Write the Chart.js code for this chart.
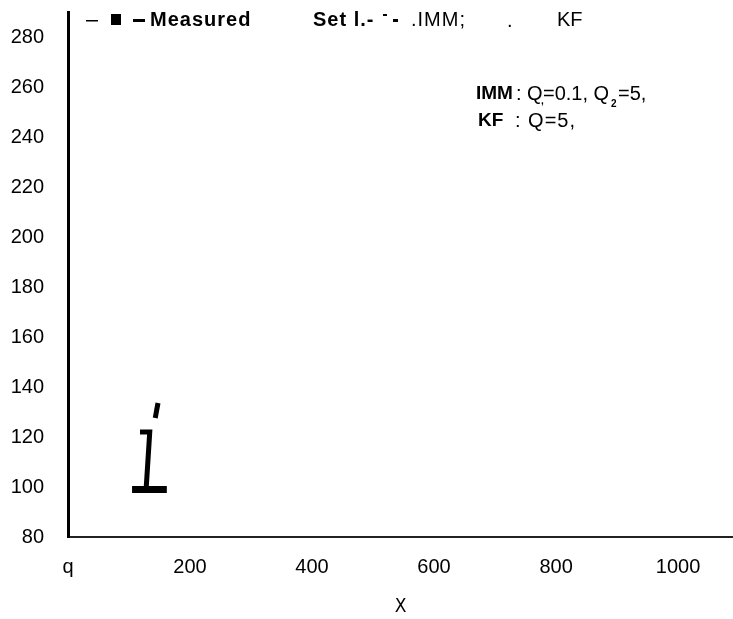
<!DOCTYPE html>
<html>
<head>
<meta charset="utf-8">
<script src="https://cdn.jsdelivr.net/npm/chart.js@4.4.1/dist/chart.umd.min.js"></script>
<style>
  html, body { margin: 0; padding: 0; background: #fff; }
  #wrap { width: 733px; height: 619px; }
</style>
</head>
<body>
<div id="wrap"><canvas id="myChart" width="733" height="619"></canvas></div>
<script>
// values
const xTicks = [0, 200, 400, 600, 800, 1000];
const xTickLabels = ["q", "200", "400", "600", "800", "1000"];
const yTicks = [80, 100, 120, 140, 160, 180, 200, 220, 240, 260, 280];

// the only marks left in the plot (measured set, the "i" shape)
const baseX = [105, 162];
const baseY = [99, 99];
const stemX = [118, 134, 128];
const stemY = [122, 122, 99];
const dotX = [143, 147.5];
const dotY = [127.6, 133.6];

function pts(xs, ys) {
  return xs.map((x, i) => ({ x: x, y: ys[i] }));
}

const FONT = "'Liberation Sans', Arial, sans-serif";

const textPlugin = {
  id: "texts",
  afterDraw(chart) {
    const c = chart.ctx;
    c.save();
    c.fillStyle = "#000";
    c.textBaseline = "middle";
    // legend row
    c.fillRect(86, 20, 12, 1.5);
    c.fillRect(111, 14, 10, 11);
    c.fillRect(133, 19, 12, 3);
    c.letterSpacing = "1px";
    c.font = "bold 20px " + FONT;
    c.fillText("Measured", 150, 20);
    c.fillText("Set l.-", 313, 20);
    c.fillRect(383, 14, 4, 2);
    c.fillRect(393, 19, 5, 3);
    c.font = "20px " + FONT;
    c.fillText(".IMM;", 411, 20);
    c.fillText(".", 507, 21);
    c.letterSpacing = "0px";
    c.fillText("KF", 557, 20);
    // annotation
    c.font = "bold 19px " + FONT;
    c.fillText("IMM", 476, 94);
    c.fillText("KF", 478, 121);
    c.font = "20px " + FONT;
    c.fillText(": Q", 516, 94);
    c.fillText("=0.1, Q", 543, 94);
    c.fillText("=5,", 618, 94);
    c.letterSpacing = "1px";
    c.fillText(": Q=5,", 515, 121);
    c.font = "bold 10px " + FONT;
    c.fillText(",", 541, 101);
    c.fillText("2", 611, 104);
    c.restore();
  }
};

const ctx = document.getElementById("myChart").getContext("2d");
const myChart = new Chart(ctx, {
  type: "line",
  data: {
    datasets: [
      { label: "Measured", data: pts(baseX, baseY), borderColor: "#000", borderWidth: 7, pointRadius: 0, borderCapStyle: "butt" },
      { label: "Measured stem", data: pts(stemX, stemY), borderColor: "#000", borderWidth: 5, pointRadius: 0, tension: 0 },
      { label: "Measured dot", data: pts(dotX, dotY), borderColor: "#000", borderWidth: 5, pointRadius: 0 }
    ]
  },
  options: {
    responsive: false,
    animation: false,
    events: [],
    layout: { padding: { top: 12, right: 0, left: 0, bottom: 0 } },
    plugins: { legend: { display: false }, tooltip: { enabled: false } },
    scales: {
      x: {
        type: "linear",
        min: 0,
        max: 1090,
        grid: { display: false, drawTicks: false },
        border: { display: true, color: "#222", width: 2 },
        afterBuildTicks: (axis) => { axis.ticks = xTicks.map(v => ({ value: v })); },
        afterFit: (axis) => { axis.height = 82; axis.paddingLeft = 0; axis.paddingRight = 0; },
        ticks: {
          color: "#000",
          padding: 18,
          maxRotation: 0,
          font: { family: FONT, size: 20 },
          callback: (v) => xTickLabels[xTicks.indexOf(v)]
        },
        title: {
          display: true,
          text: "X",
          color: "#000",
          padding: { top: 10, bottom: 1 },
          font: { family: "'DejaVu Sans Condensed', 'DejaVu Sans', sans-serif", size: 19 }
        }
      },
      y: {
        min: 80,
        max: 290,
        grid: { display: false, drawTicks: false },
        border: { display: true, color: "#000", width: 3 },
        afterBuildTicks: (axis) => { axis.ticks = yTicks.map(v => ({ value: v })); },
        afterFit: (axis) => { axis.width = 68; axis.paddingTop = 0; axis.paddingBottom = 0; },
        ticks: {
          color: "#000",
          padding: 24,
          font: { family: FONT, size: 20 }
        }
      }
    }
  },
  plugins: [textPlugin]
});
</script>
</body>
</html>
